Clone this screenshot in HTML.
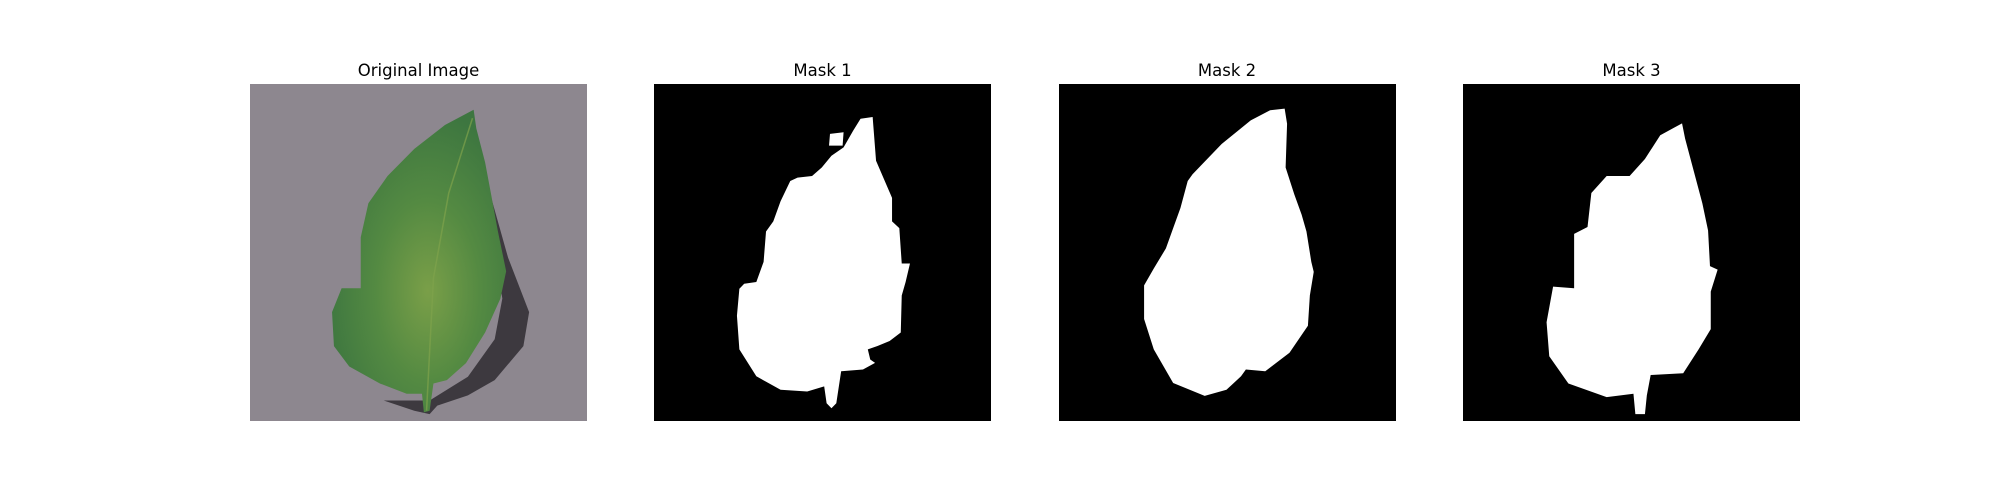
<!DOCTYPE html>
<html><head><meta charset="utf-8"><style>
html,body{margin:0;padding:0;background:#fff;width:2000px;height:500px;overflow:hidden}
svg{display:block}
text{font-family:"DejaVu Sans","Liberation Sans",sans-serif;font-size:16.5px;fill:#000}
</style></head><body>
<svg width="2000" height="500" viewBox="0 0 2000 500">
<defs>
<radialGradient id="lg" cx="0.55" cy="0.6" r="0.6">
<stop offset="0" stop-color="#7a9f48"/><stop offset="0.5" stop-color="#548a42"/><stop offset="1" stop-color="#3d7640"/>
</radialGradient>
</defs>
<g>
<text x="418.5" y="76" text-anchor="middle">Original Image</text>
<rect x="250" y="84" width="337" height="337" fill="#8d878f"/>
<g transform="translate(200,40) scale(0.3827,0.3401)">
<path fill="#3d393f" d="M720,270 L760,460 L805,640 L860,800 L845,900 L770,1000 L700,1045 L620,1075 L600,1100 L560,1090 L480,1060 L600,1060 L700,990 L770,880 L790,760 Z"/>
<path fill="url(#lg)" d="M715,205 L722,260 L745,360 L760,450 L778,560 L800,680 L785,760 L745,860 L695,950 L645,1000 L610,1010 L600,1090 L585,1095 L580,1040 L540,1040 L470,1010 L390,960 L350,900 L345,800 L370,730 L420,730 L420,580 L440,480 L490,400 L560,320 L640,250 Z"/>
<path stroke="#7fa24c" stroke-width="4" fill="none" opacity="0.7" d="M712,230 L650,450 L610,700 L592,1090"/>
</g>
</g>
<g>
<text x="822.5" y="76" text-anchor="middle">Mask 1</text>
<rect x="654" y="84" width="337" height="337" fill="#000"/>
<g transform="translate(640,80) scale(0.4847,0.3367)" fill="#fff">
<path d="M480,110 L487,240 L520,350 L520,420 L535,440 L540,545 L557,545 L548,600 L540,640 L538,750 L515,775 L490,790 L470,800 L475,830 L485,840 L460,860 L415,865 L405,960 L395,975 L385,960 L380,910 L345,925 L290,920 L240,880 L205,800 L200,700 L205,620 L215,605 L240,600 L255,540 L260,450 L275,420 L290,360 L310,300 L325,290 L355,285 L375,260 L395,225 L420,200 L440,150 L455,115 Z"/>
<path d="M392,160 L420,155 L418,195 L390,195 Z"/>
</g>
</g>
<g>
<text x="1227" y="76" text-anchor="middle">Mask 2</text>
<rect x="1059" y="84" width="337" height="337" fill="#000"/>
<g transform="translate(640,80) scale(0.4847,0.3367)" fill="#fff">
<path d="M1330,85 L1335,130 L1332,260 L1350,340 L1365,400 L1375,450 L1385,540 L1390,570 L1382,640 L1378,730 L1340,810 L1290,865 L1250,860 L1240,880 L1210,920 L1165,938 L1100,900 L1060,800 L1040,710 L1040,610 L1060,560 L1085,500 L1100,440 L1115,380 L1130,300 L1140,280 L1200,190 L1260,120 L1300,90 Z"/>
</g>
</g>
<g>
<text x="1631.5" y="76" text-anchor="middle">Mask 3</text>
<rect x="1463" y="84" width="337" height="337" fill="#000"/>
<g transform="translate(1400,40) scale(0.3827,0.3401)" fill="#fff">
<path d="M737,245 L745,290 L790,480 L805,560 L810,665 L830,675 L812,740 L812,850 L780,910 L740,980 L655,985 L645,1045 L640,1100 L615,1100 L610,1040 L540,1050 L440,1010 L390,930 L383,830 L400,725 L455,730 L455,570 L490,550 L500,450 L540,400 L600,400 L640,350 L680,280 Z"/>
</g>
</g>
</svg>
</body></html>
